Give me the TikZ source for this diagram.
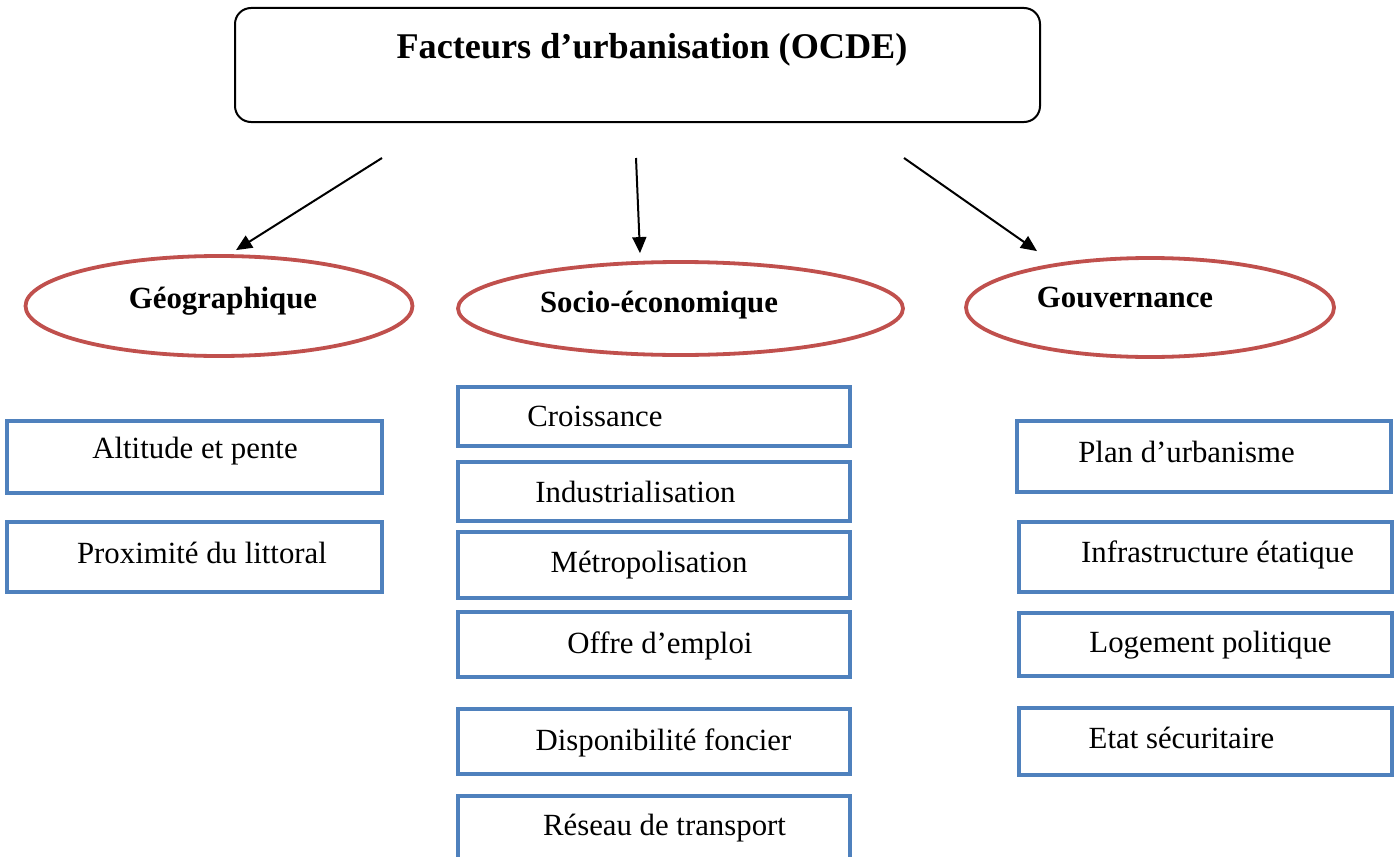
\documentclass[tikz,border=0pt]{standalone}
\usepackage{fontspec}
\setmainfont{Liberation Serif}
\usepackage{tikz}
\usetikzlibrary{calc,arrows.meta,shapes.geometric}
\definecolor{rougeOCDE}{HTML}{C0504D}
\definecolor{bleuOCDE}{HTML}{4F81BD}

\begin{document}
\begin{tikzpicture}[x=0.5pt,y=-0.5pt,
    titrebox/.style={draw,line width=1pt,rounded corners=8pt,minimum width=402.5pt,minimum height=57pt,inner sep=0pt},
    famille/.style n args={2}{draw=rougeOCDE,line width=1.9pt,ellipse,inner sep=0pt,minimum width=#1,minimum height=#2},
    boite/.style n args={2}{draw=bleuOCDE,line width=2.2pt,inner sep=0pt,minimum width=#1,minimum height=#2},
    texte/.style={font=\fontsize{15.4}{18}\selectfont,anchor=base,inner sep=0pt},
    texteG/.style={font=\bfseries\fontsize{15.4}{18}\selectfont,anchor=base,inner sep=0pt},
    fleche/.style={-{Triangle[length=8pt,width=7pt]},line width=1pt}]
        % Page frame (the last box runs off the bottom)
        \path[use as bounding box,clip] (0,0) rectangle (1400,856);
        % Title
        \node[titrebox] (titre) at (637.5,65) {};
        \node[font=\bfseries\fontsize{18.1}{22}\selectfont,anchor=base,inner sep=0pt] (titretxt) at (652,59) {Facteurs d’urbanisation (OCDE)};
        % Three families of factors
        \node[famille={193.5pt}{50pt}] (geo) at (219,306) {};
        \node[texteG] (geotxt) at (223,308) {Géographique};
        \node[famille={222.5pt}{46.5pt}] (socio) at (680.5,308.5) {};
        \node[texteG] (sociotxt) at (659,312) {Socio-économique};
        \node[famille={184pt}{49.5pt}] (gouv) at (1150,307.5) {};
        \node[texteG] (gouvtxt) at (1125,307) {Gouvernance};
        % Arrows from the title
        \coordinate (d1) at (382,158);
        \coordinate (d2) at (636,158);
        \coordinate (d3) at (904,158);
        \draw[fleche] (d1) -- ($(geo.north)+(17,-4)$);
        \draw[fleche] (d2) -- ($(socio.north)+(-40.5,-7)$);
        \draw[fleche] (d3) -- ($(gouv.north)+(-113,-5)$);
        % Geographic factors
        \node[boite={187.5pt}{36pt}] (alt) at (194.5,457) {};
        \node[texte] (alttxt) at (195,458) {Altitude et pente};
        \node[boite={187.5pt}{35pt}] (prox) at (194.5,557) {};
        \node[texte] (proxtxt) at (202,563) {Proximité du littoral};
        % Socio-economic factors
        \node[boite={196pt}{29.5pt}] (crois) at (654,416.5) {};
        \node[texte] (croistxt) at (595,426) {Croissance};
        \node[boite={196pt}{29.5pt}] (indus) at (654,491.5) {};
        \node[texte] (industxt) at (635.5,502) {Industrialisation};
        \node[boite={196pt}{33pt}] (metro) at (654,565) {};
        \node[texte] (metrotxt) at (649,572) {Métropolisation};
        \node[boite={196pt}{32.5pt}] (offre) at (654,644.5) {};
        \node[texte] (offretxt) at (660,653) {Offre d’emploi};
        \node[boite={196pt}{32.5pt}] (dispo) at (654,741.5) {};
        \node[texte] (dispotxt) at (663.5,750) {Disponibilité foncier};
        \node[boite={196pt}{32.5pt}] (reseau) at (654,828.5) {};
        \node[texte] (reseautxt) at (664.5,835) {Réseau de transport};
        % Governance factors
        \node[boite={187pt}{35.5pt}] (plan) at (1204,456.5) {};
        \node[texte] (plantxt) at (1186.5,462) {Plan d’urbanisme};
        \node[boite={186.5pt}{35pt}] (infra) at (1205.5,557) {};
        \node[texte] (infratxt) at (1217.5,562) {Infrastructure étatique};
        \node[boite={186.5pt}{31.5pt}] (loge) at (1205.5,644.5) {};
        \node[texte] (logetxt) at (1210.5,652) {Logement politique};
        \node[boite={186.5pt}{33.5pt}] (etat) at (1205.5,741.5) {};
        \node[texte] (etattxt) at (1181.5,748) {Etat sécuritaire};
\end{tikzpicture}
\end{document}
